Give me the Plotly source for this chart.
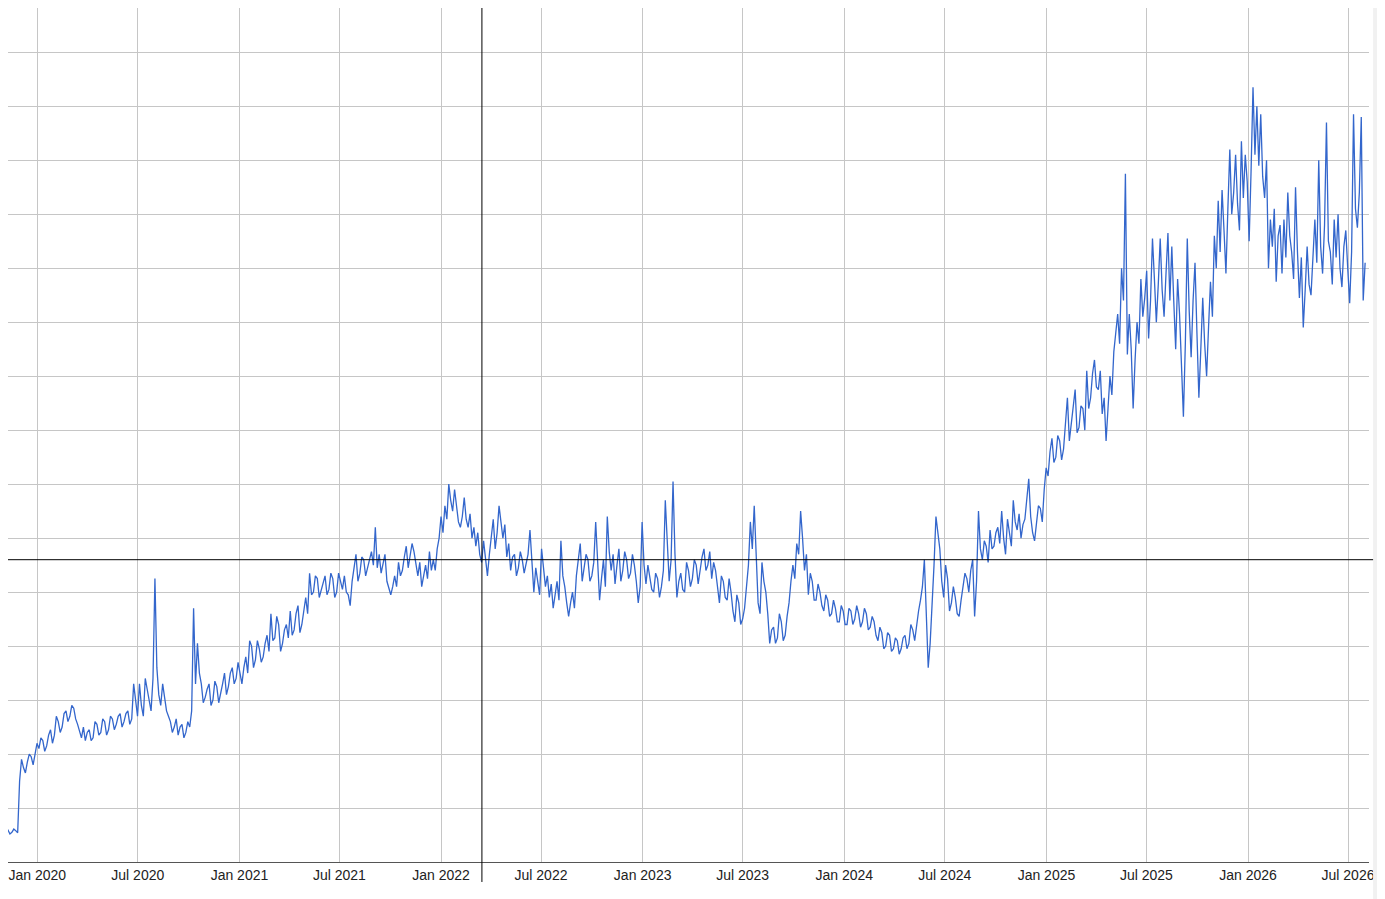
import pandas as pd
import plotly.graph_objects as go

# readings every 3.5 days from late Oct 2019: weekly points plus the mid-week
# point that follows each of them
start_date = "2019-10-26"

week_2019 = [6.3, 6.0, 5.9, 5.5, 5.8, 15, 17.5, 18.5, 19.5, 20]
mid_2019 = [5.6, 6.4, 5.2, 6.1, 5.4, 19, 16.5, 20, 18, 22]

week_2020a = [21, 22.5, 21.5, 24.5, 23.5, 26, 25, 28, 27, 28.5, 25.5, 23, 22.5,
              24.5, 23, 25.5, 24, 26, 24.5, 26.5, 25.5, 27.5, 26, 28, 26.5, 30]
mid_2020a = [23, 20.5, 23.5, 22, 27, 24, 27.5, 26, 29, 26.5, 24, 25, 24, 22.5,
             26, 23.5, 26.5, 23.5, 27, 24.5, 27, 25, 27.5, 25.5, 33, 27]

week_2020b = [33, 27, 32, 28, 52.5, 31, 33, 28, 26, 25, 23.5, 25.5, 24, 25, 47,
              40.5, 33, 30.5, 33, 30, 32.5, 31, 35, 32.5, 36, 34]
mid_2020b = [29, 34, 30, 34, 36, 29, 30.5, 27, 24, 26.5, 25, 23, 26, 28, 33, 35,
             29.5, 32, 29, 33.5, 29.5, 33, 31, 35, 33, 37]

week_2021 = [35, 36, 35, 40, 37.5, 39.5, 38, 42, 46, 41.5, 44, 40.5, 44, 46.5,
             43, 47.5, 44, 49, 53.5, 50, 52.5, 50.5, 53, 50.5, 52.5, 50, 52, 53,
             49.5, 52, 57, 53.5, 56, 54.5, 57.5, 62, 57, 55, 52, 49.5, 53, 55.5,
             54, 58.5, 56.5, 57.5, 53, 51, 55, 57.5, 56, 58, 64, 66, 70, 65]
mid_2021 = [33, 38, 41, 36, 41, 37, 40.5, 39, 41, 45.5, 39, 43, 41.5, 42, 46,
            42.5, 46.5, 46, 49.5, 53, 49, 52, 49.5, 53.5, 49, 53.5, 50.5, 50,
            47.5, 54.5, 52, 56.5, 53, 56, 55, 54.5, 53.5, 57, 50.5, 51, 51, 53,
            56.5, 54.5, 59, 55, 55.5, 53, 52.5, 54, 54, 60, 61, 63.5, 67, 69]

week_2022 = [66, 62, 67.5, 62, 60, 58.5, 57, 59.5, 53, 61, 58, 66, 60, 56.5, 54,
             57, 54.5, 56, 55, 61.5, 50, 52, 58, 51, 49, 47, 52, 59.5, 51, 45.5,
             50, 53, 59, 54.5, 56, 53, 63, 48.5, 56, 64, 54, 51.5, 58, 54, 56,
             53.5, 55, 48, 63, 51.5, 53, 50, 52.5, 51, 67, 52, 70.5, 49, 53.5,
             50, 54, 52.5, 55, 54]
mid_2022 = [63, 64, 63.5, 64.5, 62, 61, 55.5, 56, 57, 63.5, 61, 63, 62.5, 59,
            56.5, 53, 57.5, 53.5, 57, 56, 54.5, 49.5, 54, 53, 51.5, 49.5, 48.5,
            53, 48, 48, 47, 56, 52, 57, 52, 55.5, 56, 52.5, 51, 57.5, 57, 55, 52,
            57.5, 52.5, 57, 52, 51, 55, 55, 50.5, 53.5, 49, 54, 58, 56, 57, 52,
            50.5, 55.5, 51, 56, 51.5, 56.5]

week_2023 = [58, 55, 52.5, 54, 48, 52, 48.5, 50, 44.5, 48, 45, 50.5, 63, 66, 48,
             55.5, 50, 40.5, 43.5, 41.5, 44.5, 42, 48, 55, 59, 65, 54, 49.5, 52,
             48.5, 50, 46.5, 48.5, 46, 47, 44.5, 46.5, 44, 46.5, 45, 46, 44.5,
             46, 43.5, 44.5, 41, 42.5, 40, 42, 39.5, 41, 39.5, 42, 40.5, 43, 44,
             48.5, 56, 36, 47, 64, 58, 49, 52.5]
mid_2023 = [54, 57.5, 55.5, 50.5, 53, 49, 52.5, 46.5, 49.5, 44, 47, 55, 58, 56,
            46, 52, 46, 43, 40.5, 46, 41, 45.5, 52, 52.5, 57, 60, 57, 53.5, 48.5,
            51.5, 47.5, 49.5, 45.5, 48.5, 44.5, 47.5, 44, 47, 44, 47.5, 43.5, 47,
            43, 45.5, 42, 43.5, 39.5, 42.5, 39, 41.5, 38.5, 41.5, 39.5, 44, 41,
            46.5, 51, 45, 40.5, 55, 61, 52, 55, 46.5]

week_2024 = [48, 49, 45.5, 51, 52.5, 54, 45.5, 65, 56, 58.5, 61.5, 58.5, 62, 65,
             57, 61, 67, 61.5, 60, 63.5, 71, 61, 63, 65.5, 69, 71.5, 78.5, 75,
             78, 76.5, 86, 81, 87.5, 80.5, 84, 91, 86, 93, 87.5, 83, 78, 90,
             94.5, 101.5, 110, 127.5, 101.5, 84, 100, 108, 104.5, 97, 115.5, 100,
             115.5, 101, 116.5]
mid_2024 = [51, 46, 48.5, 53.5, 50, 56, 52, 58, 59.5, 55.5, 58, 61, 59, 60, 63.5,
            58.5, 63, 64.5, 62.5, 67, 64, 59.5, 66, 63, 73, 76, 74, 79, 74.5, 81,
            78, 85, 79.5, 84.5, 80, 84, 90.5, 88, 91, 86, 84, 86.5, 98, 96, 104,
            94, 95, 93, 96, 101, 109.5, 104, 108, 107, 106, 109, 104]

week_2025 = [114, 95, 101.5, 82.5, 115.5, 93.5, 111, 86, 104.5, 90, 107.5, 116,
             122.5, 124.5, 109, 132, 124, 122, 133.5, 131, 115, 143.5, 140,
             138.5, 123, 110, 114, 107.5, 118, 119, 124, 113, 125, 104.5, 99,
             114, 105, 119, 130, 109, 137, 113, 119, 120, 106.5, 117, 103.5,
             138.5, 117.5, 138, 111]
mid_2025 = [104, 108, 92, 96, 102, 104, 98, 95, 96, 99, 101, 110, 113, 117, 121,
            120, 131, 117, 123, 126, 128, 131, 129, 127, 130, 119, 121, 116, 109,
            112, 116, 108, 113, 112, 106, 107, 112, 111, 114, 118, 115, 107, 112,
            110, 114, 110, 113, 121, 124, 104]

weekly = (week_2019 + week_2020a + week_2020b + week_2021 + week_2022
          + week_2023 + week_2024 + week_2025)
midweek = (mid_2019 + mid_2020a + mid_2020b + mid_2021 + mid_2022
           + mid_2023 + mid_2024 + mid_2025)

values = []
for w, m in zip(weekly[:-1], midweek):
    values += [w, m]
values.append(weekly[-1])
dates = pd.date_range(start_date, periods=len(values), freq="84h")

cross_x = "2022-03-16"
cross_y = 56

fig = go.Figure()
fig.add_scatter(x=dates, y=values, mode="lines",
                line=dict(color="#3366cc", width=1.3), hoverinfo="skip")

grid = "#c6c6c6"
fig.update_layout(
    width=1377, height=891,
    margin=dict(l=0, r=16, t=0, b=37),
    paper_bgcolor="white", plot_bgcolor="white",
    showlegend=False,
    font=dict(family="Liberation Sans, Arial", size=14, color="#222222"),
    xaxis=dict(range=["2019-11-09", "2026-08-08"], tick0="2020-01-01", dtick="M6",
               tickformat="%b %Y", showgrid=True, gridcolor=grid, gridwidth=1,
               showline=True, linecolor="#555555", linewidth=1,
               ticks="", zeroline=False),
    yaxis=dict(range=[0, 158.2], dtick=10, showgrid=True, gridcolor=grid,
               gridwidth=1, showticklabels=False, zeroline=False, ticks=""),
    shapes=[
        dict(type="line", xref="x", yref="paper", x0=cross_x, x1=cross_x,
             y0=-0.0234, y1=1, line=dict(color="black", width=1)),
        dict(type="line", xref="paper", yref="y", x0=0, x1=1.005,
             y0=cross_y, y1=cross_y, line=dict(color="black", width=1)),
        dict(type="rect", xref="paper", yref="paper", x0=1.003, x1=1.012,
             y0=-0.05, y1=1.01, line=dict(width=0), fillcolor="#f1f1f1"),
    ],
)

fig.write_html("out.html")
